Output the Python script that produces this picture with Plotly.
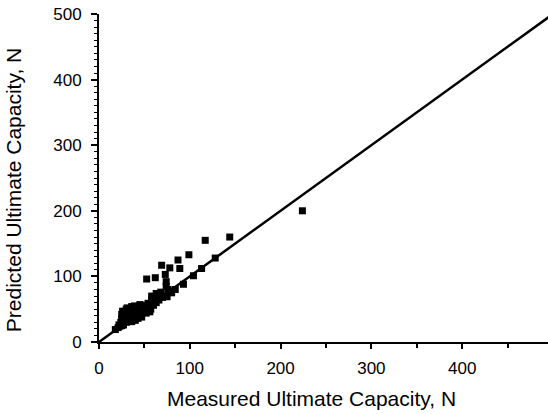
import plotly.graph_objects as go

# Measured vs predicted ultimate capacity (N)
measured = [
    224, 144, 117, 99, 87, 89, 69, 78, 73, 62, 52.5, 74, 74, 76,
    128, 113, 104, 93, 84, 80, 75, 70, 65, 62, 60, 58,
    27, 30, 32, 34, 36, 38, 30, 31, 35, 39, 42, 45, 48, 51, 54, 56, 52, 47,
    43, 40, 36, 44, 50, 40, 33, 29, 28, 46, 53, 57, 60, 63, 66,
    18, 21, 23, 25,
    25, 25, 26, 28, 24, 22, 30, 36, 45, 54, 58, 63, 68, 76, 60, 66, 55, 50,
]
predicted = [
    200, 160, 155, 133, 125, 112, 117, 113, 103, 98, 96, 92, 85, 78,
    128, 112, 101, 88, 80, 75, 69, 68, 66, 62, 68, 64,
    26, 30, 34, 38, 42, 46, 46, 52, 50, 55, 52, 50, 55, 56, 52, 46, 44, 38,
    36, 33, 31, 44, 48, 40, 44, 40, 36, 42, 50, 50, 56, 60, 64,
    19, 22, 24, 25,
    35, 42, 47, 44, 30, 26, 50, 54, 57, 59, 70, 74, 76, 80, 64, 70, 55, 52,
]
line_x = [0, 500]
line_y = [0, 500]

x_ticks = [0, 100, 200, 300, 400]
y_ticks = [0, 100, 200, 300, 400, 500]

FONT = "Liberation Sans, Arial, sans-serif"

fig = go.Figure()
fig.add_trace(go.Scatter(x=line_x, y=line_y, mode="lines",
                         line=dict(color="black", width=2.5),
                         showlegend=False, cliponaxis=True))
fig.add_trace(go.Scatter(x=measured, y=predicted, mode="markers",
                         marker=dict(symbol="square", size=7, color="black",
                                     line=dict(width=0)),
                         showlegend=False))

fig.update_layout(
    width=548, height=414,
    margin=dict(l=99, r=0, t=14, b=72, pad=0),
    paper_bgcolor="white", plot_bgcolor="white",
    font=dict(family=FONT, color="black"),
    xaxis=dict(range=[0, 494.5], tickvals=x_ticks, ticks="outside", ticklen=5,
               tickwidth=1.5, tickcolor="black",
               showline=True, linecolor="black", linewidth=2, showgrid=False,
               zeroline=False, tickfont=dict(size=17, family=FONT),
               ticklabelstandoff=5,
               minor=dict(dtick=50, tick0=0, ticks="outside", ticklen=4,
                          tickwidth=1.5, tickcolor="black", showgrid=False)),
    yaxis=dict(range=[0, 500], tickvals=y_ticks, ticks="outside", ticklen=6,
               tickwidth=1.5, tickcolor="black",
               showline=True, linecolor="black", linewidth=2, showgrid=False,
               zeroline=False, tickfont=dict(size=17, family=FONT),
               ticklabelstandoff=6,
               minor=dict(dtick=10, tick0=0, ticks="outside", ticklen=3,
                          tickwidth=1, tickcolor="black", showgrid=False)),
    annotations=[
        dict(text="Measured Ultimate Capacity, N", xref="paper", yref="paper",
             x=0.473, y=-0.172, xanchor="center", yanchor="middle",
             showarrow=False, font=dict(size=21, family=FONT)),
        dict(text="Predicted Ultimate Capacity, N", xref="paper", yref="paper",
             x=-0.19, y=0.462, xanchor="center", yanchor="middle",
             textangle=-90, showarrow=False, font=dict(size=21, family=FONT)),
    ],
)

fig.write_html("out.html", config={"displayModeBar": False},
               post_script="document.body.style.margin='0';document.body.style.padding='0';")
